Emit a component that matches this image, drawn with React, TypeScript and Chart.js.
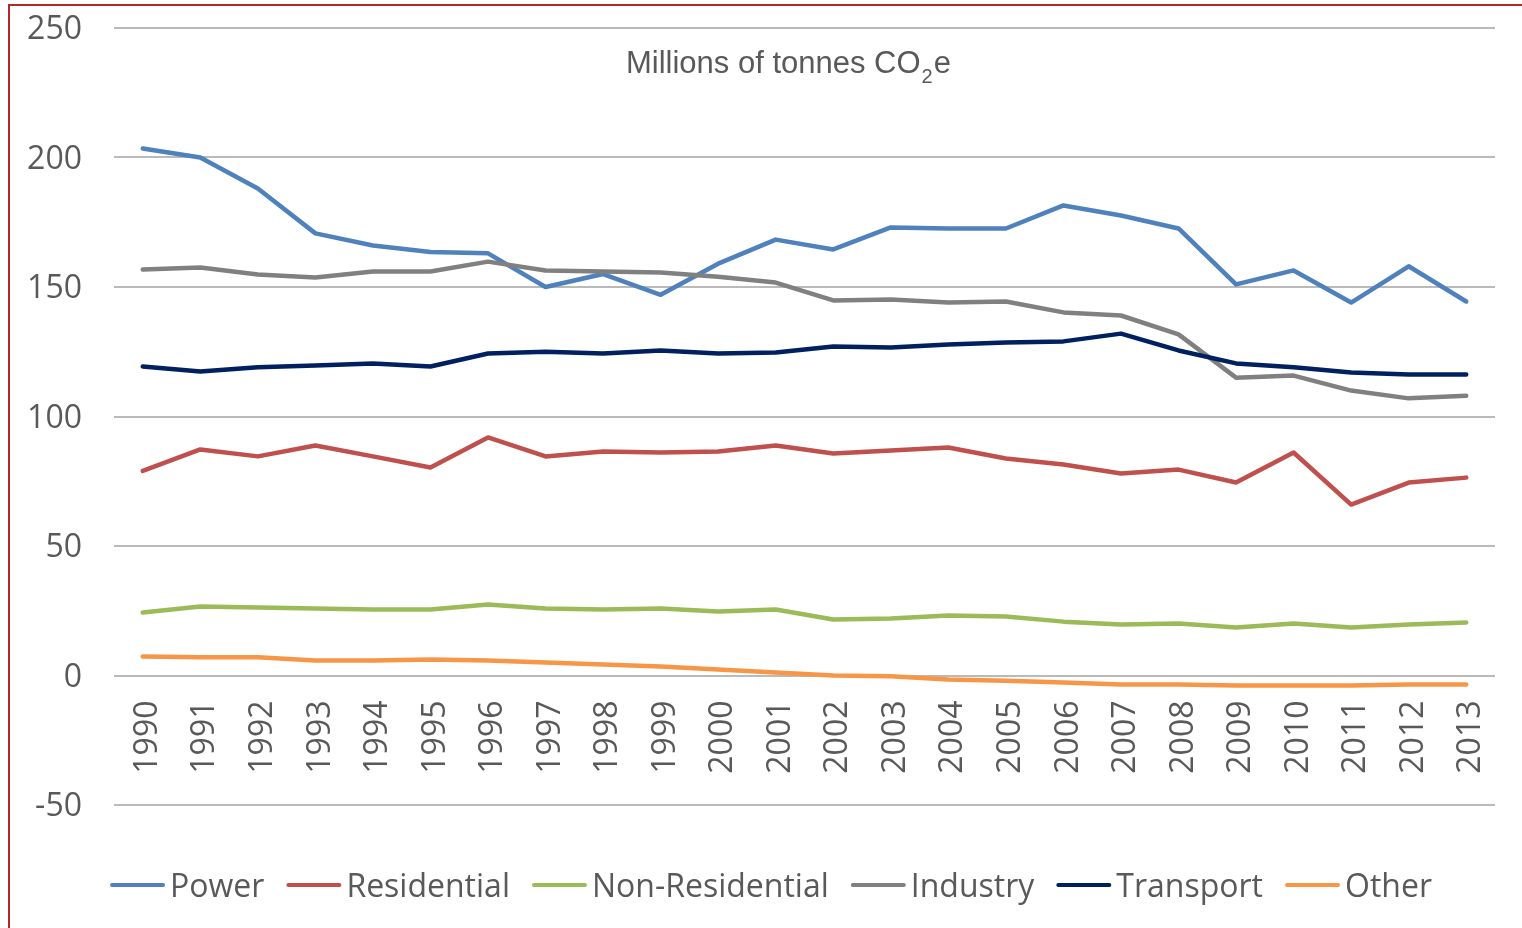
import React, { useEffect, useRef } from "react";
import { Chart, registerables } from "chart.js";

Chart.register(...registerables);

const years = [
  "1990", "1991", "1992", "1993", "1994", "1995", "1996", "1997", "1998", "1999", "2000", "2001",
  "2002", "2003", "2004", "2005", "2006", "2007", "2008", "2009", "2010", "2011", "2012", "2013",
];

const power = [203.5, 200, 188, 170.7, 166, 163.5, 163, 150, 155, 147, 159, 168.3, 164.5, 173, 172.6, 172.6, 181.5, 177.6, 172.6, 151, 156.4, 144, 158, 144.4];
const residential = [79, 87.3, 84.6, 88.8, 84.6, 80.3, 91.9, 84.6, 86.5, 86.1, 86.5, 88.8, 85.7, 86.9, 88, 83.8, 81.5, 78, 79.5, 74.5, 86.1, 66, 74.5, 76.4];
const nonResidential = [24.3, 26.6, 26.3, 25.9, 25.5, 25.5, 27.4, 25.9, 25.5, 25.9, 24.7, 25.5, 21.6, 22, 23.2, 22.8, 20.8, 19.7, 20.1, 18.5, 20.1, 18.5, 19.7, 20.5];
const industry = [156.8, 157.5, 154.8, 153.7, 156, 156, 159.8, 156.4, 156, 155.6, 154, 151.7, 144.8, 145.2, 144, 144.4, 140.2, 139, 131.7, 115, 115.8, 110, 107, 108];
const transport = [119.3, 117.4, 119, 119.7, 120.5, 119.3, 124.3, 125, 124.3, 125.5, 124.3, 124.7, 127, 126.6, 127.8, 128.6, 129, 132, 125.5, 120.5, 119, 117, 116.2, 116.2];
const other = [7.3, 7, 7, 5.8, 5.8, 6.2, 5.8, 5, 4.2, 3.5, 2.3, 1.2, 0, -0.3, -1.5, -2, -2.7, -3.5, -3.5, -3.9, -3.9, -3.9, -3.5, -3.5];

const seriesNames = ["Power", "Residential", "Non-Residential", "Industry", "Transport", "Other"];
const seriesValues = [power, residential, nonResidential, industry, transport, other];
const seriesColors = ["#4F81BD", "#C0504D", "#9BBB59", "#808080", "#002060", "#F79646"];

const yMin = -50;
const yMax = 250;
const yStep = 50;

const titleMain = "Millions of tonnes CO";
const titleSub = "2";
const titleEnd = "e";

const textColor = "#595959";

const titlePlugin = {
  id: "co2Title",
  afterDraw(chart: any) {
    const ctx = chart.ctx;
    const ca = chart.chartArea;
    ctx.save();
    ctx.fillStyle = textColor;
    ctx.textAlign = "left";
    ctx.textBaseline = "alphabetic";
    const x0 = ca.left + 512;
    const base = ca.top + 45;
    ctx.font = '31px "Liberation Sans", Arial, sans-serif';
    ctx.fillText(titleMain, x0, base);
    let x = x0 + ctx.measureText(titleMain).width + 1;
    ctx.font = '20px "Liberation Sans", Arial, sans-serif';
    ctx.fillText(titleSub, x, base + 10);
    x += ctx.measureText(titleSub).width + 1;
    ctx.font = '31px "Liberation Sans", Arial, sans-serif';
    ctx.fillText(titleEnd, x, base);
    ctx.restore();
  },
};

const legendPlugin = {
  id: "lineLegend",
  afterDraw(chart: any) {
    const ctx = chart.ctx;
    const ca = chart.chartArea;
    ctx.save();
    ctx.font = '32px "Open Sans", sans-serif';
    const lineW = 55;
    const gapText = 5;
    const gapItem = 22;
    const items = chart.data.datasets.map((d: any) => ({
      label: d.label as string,
      color: d.borderColor as string,
      w: ctx.measureText(d.label).width,
    }));
    const total =
      items.reduce((s: number, it: any) => s + lineW + gapText + it.w, 0) + gapItem * (items.length - 1);
    let x = ca.left + 657 - total / 2;
    const yLine = ca.bottom + 80;
    const yBase = ca.bottom + 92;
    ctx.textAlign = "left";
    ctx.textBaseline = "alphabetic";
    items.forEach((it: any) => {
      ctx.strokeStyle = it.color;
      ctx.lineWidth = 4;
      ctx.lineCap = "round";
      ctx.beginPath();
      ctx.moveTo(x + 2, yLine);
      ctx.lineTo(x + lineW - 2, yLine);
      ctx.stroke();
      x += lineW + gapText;
      ctx.fillStyle = textColor;
      ctx.fillText(it.label, x, yBase);
      x += it.w + gapItem;
    });
    ctx.restore();
  },
};

export default function App() {
  const canvasRef = useRef<HTMLCanvasElement | null>(null);

  useEffect(() => {
    if (!canvasRef.current) return;
    const chart = new Chart(canvasRef.current, {
      type: "line",
      data: {
        labels: years,
        datasets: seriesNames.map((name, i) => ({
          label: name,
          data: seriesValues[i],
          borderColor: seriesColors[i],
          backgroundColor: seriesColors[i],
          borderWidth: 4.5,
          pointRadius: 0,
          pointHoverRadius: 0,
          tension: 0,
          fill: false,
          borderCapStyle: "round" as const,
          borderJoinStyle: "round" as const,
          order: seriesNames.length - i,
        })),
      },
      options: {
        responsive: false,
        animation: false,
        layout: { padding: { left: 0, top: 28, right: 27, bottom: 123 } },
        plugins: {
          legend: { display: false },
          title: { display: false },
          tooltip: { enabled: false },
        },
        scales: {
          x: {
            type: "category",
            position: { y: 0 } as any,
            offset: true,
            grid: { display: false, drawTicks: false },
            border: { display: false },
            ticks: {
              autoSkip: false,
              minRotation: 90,
              maxRotation: 90,
              padding: 25,
              labelOffset: 5,
              color: textColor,
              font: { family: '"Open Sans", sans-serif', size: 32 },
            },
            afterFit: (scale: any) => {
              scale.paddingLeft = 0;
              scale.paddingRight = 0;
            },
          },
          y: {
            min: yMin,
            max: yMax,
            grid: { color: "#BABABA", lineWidth: 2, drawTicks: false },
            border: { display: false },
            ticks: {
              stepSize: yStep,
              padding: 32,
              labelOffset: 2,
              color: textColor,
              font: { family: '"Open Sans", sans-serif', size: 32 },
            },
            afterFit: (scale: any) => {
              scale.width = 114;
              scale.paddingTop = 0;
              scale.paddingBottom = 0;
            },
          },
        },
      },
      plugins: [titlePlugin, legendPlugin],
    });
    return () => chart.destroy();
  }, []);

  return (
    <div
      style={{
        position: "fixed",
        left: 0,
        top: 0,
        width: 1522,
        height: 928,
        overflow: "hidden",
        background: "#ffffff",
      }}
    >
      <div
        style={{
          position: "absolute",
          left: 8,
          top: 4,
          width: 1700,
          height: 1100,
          border: "2px solid #B3262B",
          boxSizing: "border-box",
        }}
      />
      <canvas
        ref={canvasRef}
        width={1522}
        height={928}
        style={{ position: "absolute", left: 0, top: 0, width: 1522, height: 928 }}
      />
    </div>
  );
}
